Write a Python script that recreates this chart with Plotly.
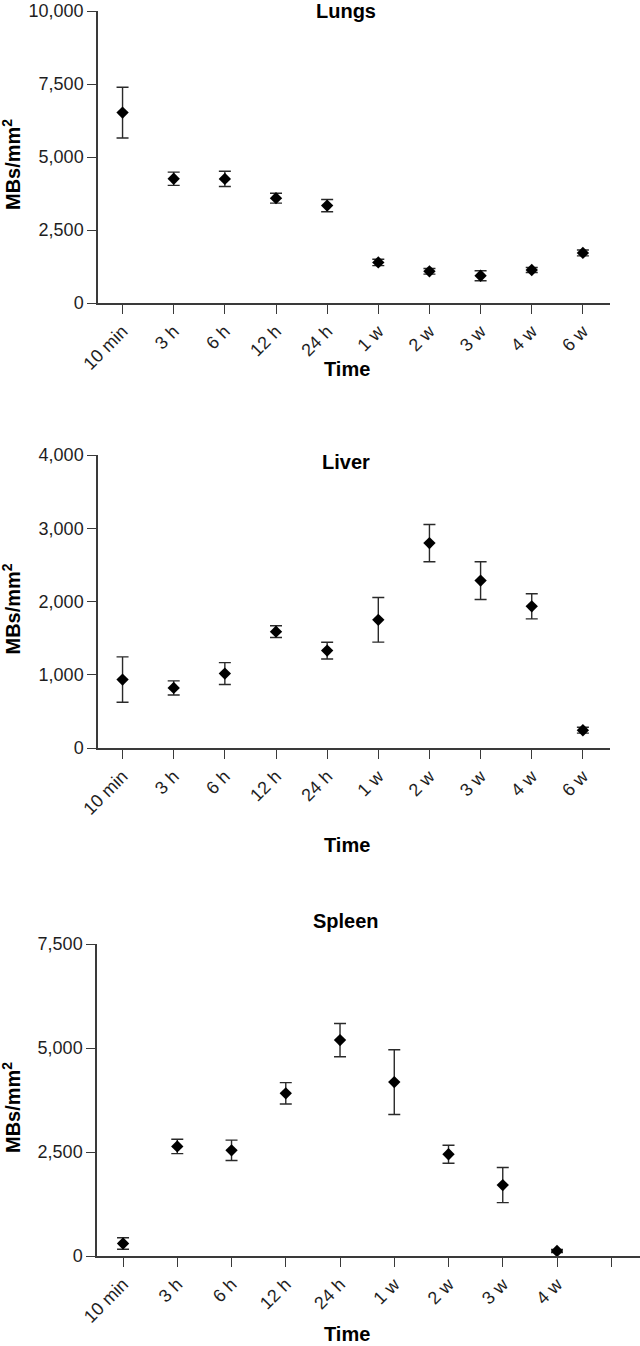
import plotly.graph_objects as go

# ---------------- data ----------------
time_labels = ["10 min", "3 h", "6 h", "12 h", "24 h", "1 w", "2 w", "3 w", "4 w", "6 w"]

lungs_mean = [6520, 4255, 4250, 3590, 3335, 1390, 1085, 935, 1130, 1715]
lungs_err = [870, 228, 262, 171, 211, 110, 95, 171, 85, 100]

liver_mean = [934, 820, 1016, 1588, 1330, 1750, 2797, 2285, 1934, 243]
liver_err = [310, 96, 150, 80, 114, 305, 255, 258, 171, 40]

spleen_labels = ["10 min", "3 h", "6 h", "12 h", "24 h", "1 w", "2 w", "3 w", "4 w"]
spleen_mean = [300, 2635, 2540, 3910, 5190, 4180, 2445, 1705, 120]
spleen_err = [137, 173, 245, 257, 400, 778, 217, 422, 35]
spleen_ticks = spleen_labels + [""]

W, H = 640, 1346
FONT = "Liberation Sans, Arial, sans-serif"
AX = "#3a3a3a"


def px(x):
    return x / W


def py(y):
    return 1 - y / H


panels = [
    # name, labels, mean, err, ticktext, yrange, dtick, x0,x1 (px), ytop, ybot (px), title y, time y
    ("Lungs", time_labels, lungs_mean, lungs_err, time_labels, 10000, 2500, 98, 610, 11, 303, 11, 369),
    ("Liver", time_labels, liver_mean, liver_err, time_labels, 4000, 1000, 98, 610, 455, 748, 462, 845),
    ("Spleen", spleen_labels, spleen_mean, spleen_err, spleen_ticks, 7500, 2500, 97, 640, 944, 1256, 921, None),
]

fig = go.Figure()
annotations = []
for i, (name, labels, mean, err, ticktext, ymax, dtick, x0, x1, yt, yb, ty, tty) in enumerate(panels):
    n = i + 1
    xa = "x" if n == 1 else f"x{n}"
    ya = "y" if n == 1 else f"y{n}"
    xs = list(range(len(labels)))
    fig.add_trace(go.Scatter(
        x=xs, y=mean, mode="markers",
        marker=dict(symbol="diamond", size=9.5, color="black"),
        error_y=dict(type="data", array=err, visible=True, color="#2a2a2a", thickness=1.4, width=6),
        xaxis=xa, yaxis=ya, showlegend=False, cliponaxis=False,
        text=labels, hovertemplate="%{text}: %{y}<extra></extra>",
    ))
    xkey = "xaxis" if n == 1 else f"xaxis{n}"
    ykey = "yaxis" if n == 1 else f"yaxis{n}"
    fig.update_layout(**{
        xkey: dict(
            domain=[px(x0), min(px(x1), 1.0)], anchor=ya, automargin=False,
            range=[-0.48, 9.53], tickmode="array",
            tickvals=list(range(len(ticktext))), ticktext=ticktext,
            tickangle=-45, ticks="outside", ticklen=9, tickwidth=1.4, tickcolor=AX,
            showline=True, linecolor=AX, linewidth=1.5, showgrid=False, zeroline=False,
            tickfont=dict(family=FONT, size=18, color="#1e1e1e"),
        ),
        ykey: dict(
            domain=[py(yb), py(yt)], anchor=xa, automargin=False,
            range=[0, ymax], tickmode="linear", tick0=0, dtick=dtick,
            tickformat=",d", ticks="outside", ticklen=9, tickwidth=1.4, tickcolor=AX,
            showline=True, linecolor=AX, linewidth=1.5, showgrid=False, zeroline=False,
            tickfont=dict(family=FONT, size=18, color="#1e1e1e"),
        ),
    })
    # panel title
    annotations.append(dict(
        text=f"<b>{name}</b>", x=px(346), y=py(ty), xref="paper", yref="paper",
        xanchor="center", yanchor="middle", showarrow=False,
        font=dict(family=FONT, size=20, color="black"),
    ))
    # x-axis title
    if tty is None:
        time_pos = dict(y=0, yanchor="bottom", borderpad=0)
    else:
        time_pos = dict(y=py(tty), yanchor="middle")
    annotations.append(dict(
        text="<b>Time</b>", x=px(347), xref="paper", yref="paper",
        xanchor="center", showarrow=False,
        font=dict(family=FONT, size=20, color="black"), **time_pos,
    ))
    # y-axis title
    annotations.append(dict(
        text="<b>MBs/mm<sup>2</sup></b>", x=px(11), y=py((yt + yb) / 2 + 8), xref="paper", yref="paper",
        xanchor="center", yanchor="middle", showarrow=False, textangle=-90,
        font=dict(family=FONT, size=20, color="black"),
    ))

fig.update_layout(
    width=W, height=H, margin=dict(l=0, r=0, t=0, b=0, autoexpand=False),
    paper_bgcolor="white", plot_bgcolor="white",
    annotations=annotations,
)

fig.write_html(
    "out.html",
    config={"displayModeBar": False},
    post_script="document.body.style.margin='0';document.body.style.padding='0';",
)
